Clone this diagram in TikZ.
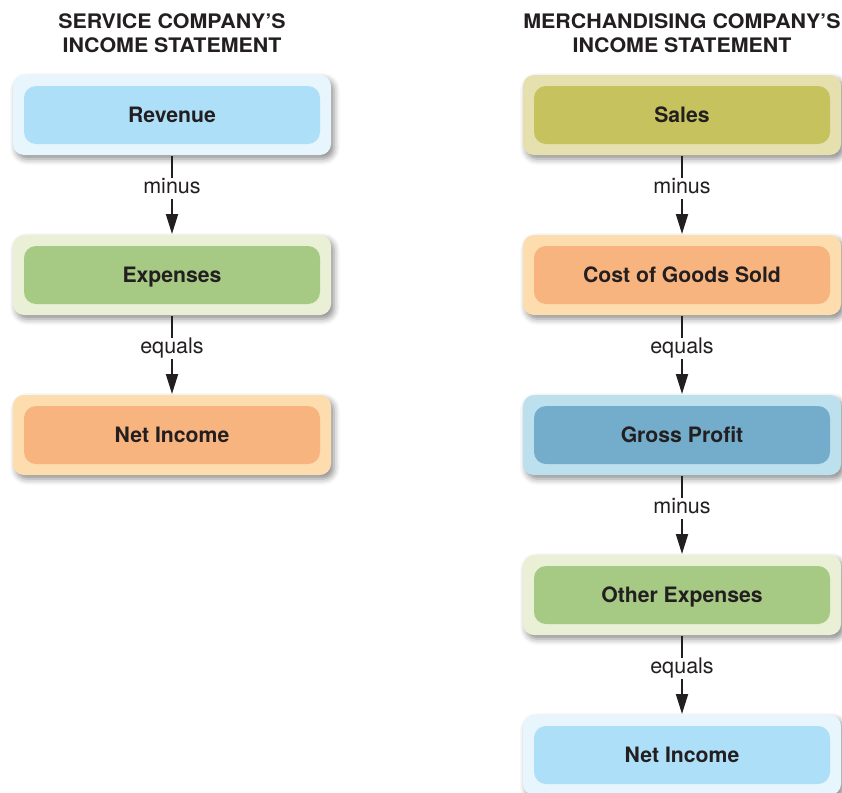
\documentclass[tikz,border=0pt]{standalone}
\usepackage{fontspec}
\setmainfont{TeX Gyre Heros}
\newfontfamily\headfont{TeX Gyre Heros}[FakeStretch=1.07]
\usetikzlibrary{arrows.meta}
\usetikzlibrary{shadows.blur}
\usetikzlibrary{positioning}

\definecolor{ink}{HTML}{231F20}
\definecolor{blueOut}{HTML}{E7F5FC}
\definecolor{blueIn}{HTML}{ADE0F8}
\definecolor{greenOut}{HTML}{E9F0D5}
\definecolor{greenIn}{HTML}{A6CA84}
\definecolor{orangeOut}{HTML}{FDDCAE}
\definecolor{orangeIn}{HTML}{F8B47E}
\definecolor{oliveOut}{HTML}{E6E0AE}
\definecolor{oliveIn}{HTML}{C6C35E}
\definecolor{tealOut}{HTML}{BDE0EF}
\definecolor{tealIn}{HTML}{73ADCB}

\tikzset{
  stmt/.style 2 args={minimum width=318pt,minimum height=80pt,rounded corners=11pt,
    fill=#1,font=\fontsize{21.2}{24}\selectfont\bfseries,text height=15.5pt,text depth=0pt,
    blur shadow={shadow xshift=3pt,shadow yshift=-4pt,shadow blur radius=6pt,shadow opacity=45},
    path picture={\fill[#2,rounded corners=12pt]
      ([xshift=11pt,yshift=-11pt]path picture bounding box.north west) rectangle
      ([xshift=-11pt,yshift=11pt]path picture bounding box.south east);}},
  word/.style={fill=white,font=\fontsize{21.5}{24}\selectfont,inner xsep=1pt,inner ysep=2pt,
    text height=13pt,text depth=4pt,pos=0.42},
  heading/.style={align=center,font=\headfont\fontsize{20}{24}\selectfont\bfseries}
}

\begin{document}
\begin{tikzpicture}[x=1pt,y=-1pt,->,>={Triangle[length=20pt,width=12pt]},node distance=160pt,line width=2pt,color=ink]
  \useasboundingbox (0,0) rectangle (842,792);

  \node[heading] (svcT) at (172,33) {SERVICE COMPANY’S\\INCOME STATEMENT};
  \node[heading] (mdsT) at (682,33) {MERCHANDISING COMPANY’S\\INCOME STATEMENT};

  % service company
  \node[stmt={blueOut}{blueIn}]       (rev)  at (172,115)   {Revenue};
  \node[stmt={greenOut}{greenIn}]     (exp)  [below of=rev] {Expenses};
  \node[stmt={orangeOut}{orangeIn}]   (net)  [below of=exp] {Net Income};

  % merchandising company
  \node[stmt={oliveOut}{oliveIn}]     (sal)  at (682,115)   {Sales};
  \node[stmt={orangeOut}{orangeIn}]   (cogs) [below of=sal] {Cost of Goods Sold};
  \node[stmt={tealOut}{tealIn}]       (gp)   [below of=cogs] {Gross Profit};
  \node[stmt={greenOut}{greenIn}]     (oth)  [below of=gp]  {Other Expenses};
  \node[stmt={blueOut}{blueIn}]       (mnet) [below of=oth] {Net Income};

  \path (rev)  edge node[word] {minus}  (exp)
        (exp)  edge node[word] {equals} (net)
        (sal)  edge node[word] {minus}  (cogs)
        (cogs) edge node[word] {equals} (gp)
        (gp)   edge node[word] {minus}  (oth)
        (oth)  edge node[word] {equals} (mnet);
\end{tikzpicture}
\end{document}
